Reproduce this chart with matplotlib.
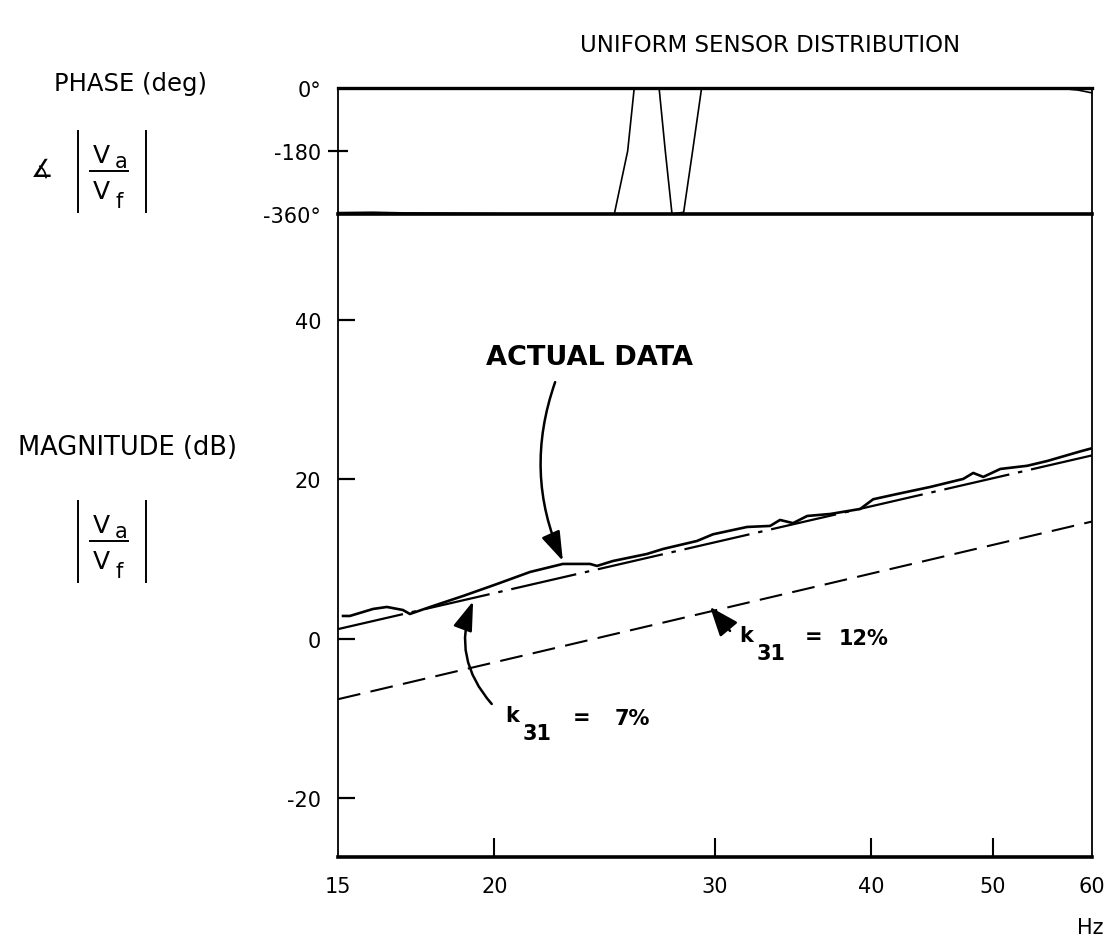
import matplotlib
matplotlib.use("Agg")
import matplotlib.pyplot as plt
from matplotlib.lines import Line2D
from matplotlib.ticker import NullLocator

plt.rcParams['font.family'] = ['DejaVu Sans']

# ---------------- data ----------------
freq_ticks = [15, 20, 30, 40, 50, 60]
freq_tick_labels = ["15", "20", "30", "40", "50", "60"]
mag_ticks = [40, 20, 0, -20]
mag_tick_labels = ["40", "20", "0", "-20"]
phase_ticks = [0, -180, -360]
phase_tick_labels = ["0°", "-180", "-360°"]

# measured phase trace (deg), wrapping between -360 and 0
phase_freq = [15, 16, 17, 18.5, 20, 22, 24.93, 25.55, 25.86,
              27.07, 27.38, 27.72, 28.32, 28.79, 29.27,
              40, 50, 57, 58.5, 60]
phase_deg = [-356, -355, -357, -358, -359, -360, -360, -180, 0,
             0, -180, -360, -355, -180, 0,
             0, -1, -2, -6, -14]

# measured magnitude (actual data), dB
actual_freq = [15.14, 15.33, 16.0, 16.41, 16.9, 17.12, 17.77, 18.88, 20.1,
               21.35, 22.68, 23.84, 24.15, 24.87, 26.47, 27.27, 29.02, 29.89,
               31.82, 33.2, 33.81, 34.63, 35.54, 37.08, 39.18, 40.13, 41.94,
               44.56, 47.35, 48.23, 49.13, 50.69, 53.26, 55.26, 58.71, 60.0]
actual_db = [2.85, 2.85, 3.73, 3.98, 3.6, 3.1, 3.98, 5.36, 6.87,
             8.37, 9.38, 9.38, 9.13, 9.75, 10.63, 11.26, 12.26, 13.1,
             14.02, 14.15, 14.9, 14.5, 15.4, 15.65, 16.28, 17.5, 18.16,
             19.04, 20.05, 20.8, 20.3, 21.3, 21.7, 22.3, 23.5, 23.9]

# theoretical predictions
k7_freq = [15, 60]
k7_db = [1.2, 23.0]
k12_freq = [15, 60]
k12_db = [-7.6, 14.7]

# ---------------- layout ----------------
W, H = 1112, 945
fig = plt.figure(figsize=(W / 100, H / 100), dpi=100)


def fx(x):
    return x / W


def fy(y):
    return 1 - y / H


L, R = 338, 1092
P_TOP, P_BOT = 89, 215
M_BOT = 857.5

ax_p = fig.add_axes([fx(L), fy(P_BOT), (R - L) / W, (P_BOT - P_TOP) / H])
ax_m = fig.add_axes([fx(L), fy(M_BOT), (R - L) / W, (M_BOT - P_BOT) / H])

for ax in (ax_p, ax_m):
    ax.set_xscale('log')
    ax.set_xlim(15, 60)
    ax.xaxis.set_minor_locator(NullLocator())
    ax.set_facecolor('none')

# ---------------- phase panel ----------------
ax_p.set_ylim(-360, 0)
ax_p.plot(phase_freq, phase_deg, color='k', lw=1.2, clip_on=False,
          solid_joinstyle='round')
ax_p.set_xticks([])
ax_p.set_yticks(phase_ticks)
ax_p.set_yticklabels(phase_tick_labels)
ax_p.tick_params(axis='y', direction='inout', length=14, width=1.6, pad=5,
                 labelsize=15)
for t, v in zip(ax_p.yaxis.get_major_ticks(), phase_ticks):
    if v != -180:
        t.tick1line.set_visible(False)
ax_p.spines['top'].set_linewidth(2.4)
ax_p.spines['bottom'].set_linewidth(2.6)
ax_p.spines['left'].set_linewidth(1.3)
ax_p.spines['right'].set_linewidth(1.3)

# ---------------- magnitude panel ----------------
ax_m.set_ylim(-27.34, 53.3)
ax_m.plot(k12_freq, k12_db, color='k', lw=1.5, linestyle=(0, (11, 5)))
ax_m.plot(k7_freq, k7_db, color='k', lw=1.6, linestyle=(0, (30, 4, 2, 4)))
ax_m.plot(actual_freq, actual_db, color='k', lw=1.9)

ax_m.set_yticks(mag_ticks)
ax_m.set_yticklabels(mag_tick_labels)
ax_m.tick_params(axis='y', direction='in', length=12, width=1.6, pad=12,
                 labelsize=15)
ax_m.set_xticks(freq_ticks)
ax_m.set_xticklabels(freq_tick_labels)
ax_m.tick_params(axis='x', direction='in', length=14, width=1.5, pad=14,
                 labelsize=15)
for t, v in zip(ax_m.xaxis.get_major_ticks(), freq_ticks):
    if v in (15, 60):
        t.tick1line.set_visible(False)
ax_m.spines['top'].set_visible(False)
ax_m.spines['bottom'].set_linewidth(2.6)
ax_m.spines['left'].set_linewidth(1.3)
ax_m.spines['right'].set_linewidth(1.3)

# ---------------- annotations ----------------
arrow_kw = dict(color='k', lw=1.8, shrinkA=0, shrinkB=0, mutation_scale=20)
ax_m.annotate('', xy=(22.68, 9.75), xytext=(22.36, 32.2),
              arrowprops=dict(arrowstyle='-|>,head_length=0.9,head_width=0.3',
                              connectionstyle='arc3,rad=0.2', **arrow_kw))
ax_m.annotate('', xy=(19.23, 4.7), xytext=(19.9, -8.2),
              arrowprops=dict(arrowstyle='-|>,head_length=0.9,head_width=0.3',
                              connectionstyle='arc3,rad=-0.3', **arrow_kw))
ax_m.annotate('', xy=(29.73, 3.98), xytext=(30.84, 0.97),
              arrowprops=dict(arrowstyle='-|>,head_length=0.9,head_width=0.35',
                              connectionstyle='arc3,rad=0', **arrow_kw))

fig.text(fx(590), fy(358), "ACTUAL DATA", fontsize=19.5, fontweight='bold',
         ha='center', va='center')

# k31 = 7%
fig.text(fx(512), fy(716), "k", fontsize=15, fontweight='bold', ha='center', va='center')
fig.text(fx(537), fy(734), "31", fontsize=15, fontweight='bold', ha='center', va='center')
fig.text(fx(582), fy(718), "=", fontsize=15, fontweight='bold', ha='center', va='center')
fig.text(fx(632), fy(719), "7%", fontsize=15, fontweight='bold', ha='center', va='center')
# k31 = 12%
fig.text(fx(746), fy(636), "k", fontsize=15, fontweight='bold', ha='center', va='center')
fig.text(fx(771), fy(654), "31", fontsize=15, fontweight='bold', ha='center', va='center')
fig.text(fx(814), fy(637), "=", fontsize=15, fontweight='bold', ha='center', va='center')
fig.text(fx(864), fy(639), "12%", fontsize=15, fontweight='bold', ha='center', va='center')

# ---------------- titles and side labels ----------------
fig.text(fx(770), fy(45), "UNIFORM SENSOR DISTRIBUTION", fontsize=16.5,
         ha='center', va='center')
fig.text(fx(131), fy(84), "PHASE (deg)", fontsize=17.5, ha='center', va='center')
fig.text(fx(128), fy(448), "MAGNITUDE (dB)", fontsize=18.5, ha='center', va='center')
fig.text(fx(1090), fy(928), "Hz", fontsize=15, ha='center', va='center')


def frac_block(cy, with_angle):
    for bx in (78, 146):
        fig.add_artist(Line2D([fx(bx), fx(bx)], [fy(cy - 40), fy(cy + 41)],
                              color='k', lw=1.4))
    fig.add_artist(Line2D([fx(90), fx(128)], [fy(cy), fy(cy)], color='k', lw=1.4))
    fig.text(fx(101), fy(cy - 16), "V", fontsize=18, ha='center', va='center')
    fig.text(fx(121), fy(cy - 10), "a", fontsize=15, ha='center', va='center')
    fig.text(fx(101), fy(cy + 20), "V", fontsize=18, ha='center', va='center')
    fig.text(fx(119), fy(cy + 30), "f", fontsize=15, ha='center', va='center')
    if with_angle:
        fig.text(fx(42), fy(cy - 2), "∡", fontsize=18, ha='center', va='center')


frac_block(172, True)
frac_block(542, False)

fig.savefig("out.png", dpi=100)
